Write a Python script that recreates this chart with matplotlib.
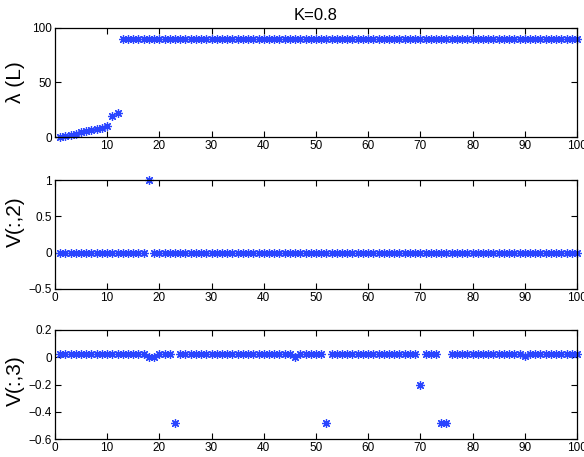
import numpy as np
import matplotlib.pyplot as plt

plt.rcParams['font.family'] = ['Liberation Sans', 'DejaVu Sans']

BLUE = "#2a45ff"

idx = np.arange(1, 101)

# eigenvalues, first 12 rising then flat at 90
lam_head = [0, 1, 2, 3, 5, 6, 6.5, 7, 8, 10, 19, 22]
lam_tail = [90] * 88
lam = np.array(lam_head + lam_tail)

# second eigenvector: a single spike at node 18
v2 = np.zeros(100)
v2_spike_node = 18
v2_spike_val = 1.0
v2[v2_spike_node - 1] = v2_spike_val

# third eigenvector: flat ~0.02 with a few outliers
v3_base = 0.022
v3_nodes = [18, 19, 23, 46, 52, 70, 74, 75, 90]
v3_vals = [0.0, 0.0, -0.48, 0.0, -0.48, -0.2, -0.48, -0.48, 0.012]
v3 = np.full(100, v3_base)
for n, v in zip(v3_nodes, v3_vals):
    v3[n - 1] = v

fig = plt.figure(figsize=(5.84, 4.57), dpi=100, facecolor="white")
ax1 = fig.add_axes([0.094, 0.700, 0.894, 0.239])
ax2 = fig.add_axes([0.094, 0.368, 0.894, 0.238])
ax3 = fig.add_axes([0.094, 0.039, 0.894, 0.239])

panels = [
    (ax1, lam, "\u03bb (L)", (0, 100), [0, 50, 100], np.arange(10, 101, 10), 0.5),
    (ax2, v2, "V(:,2)", (-0.5, 1), [-0.5, 0, 0.5, 1], np.arange(0, 101, 10), 0.62),
    (ax3, v3, "V(:,3)", (-0.6, 0.2), [-0.6, -0.4, -0.2, 0, 0.2], np.arange(0, 101, 10), 0.54),
]

for ax, y, lab, ylim, yt, xt, ly in panels:
    ax.plot(idx, y, linestyle="none", marker=(8, 2, 0), markersize=6.2,
            markeredgewidth=0.9, color=BLUE, clip_on=False)
    ax.set_xlim(0, 100)
    ax.set_ylim(*ylim)
    ax.set_yticks(yt)
    ax.set_yticklabels([("%g" % t).replace("-", "\u2212") for t in yt])
    ax.set_xticks(xt)
    ax.tick_params(direction="in", top=True, right=True, labelsize=8.5,
                   length=4, width=0.8, pad=2)
    for s in ax.spines.values():
        s.set_linewidth(0.9)
    ax.set_ylabel(lab, fontsize=15)
    ax.yaxis.set_label_coords(-0.058, ly)

ax1.set_title("K=0.8", fontsize=12, pad=6)

plt.savefig("out.png", dpi=100)
